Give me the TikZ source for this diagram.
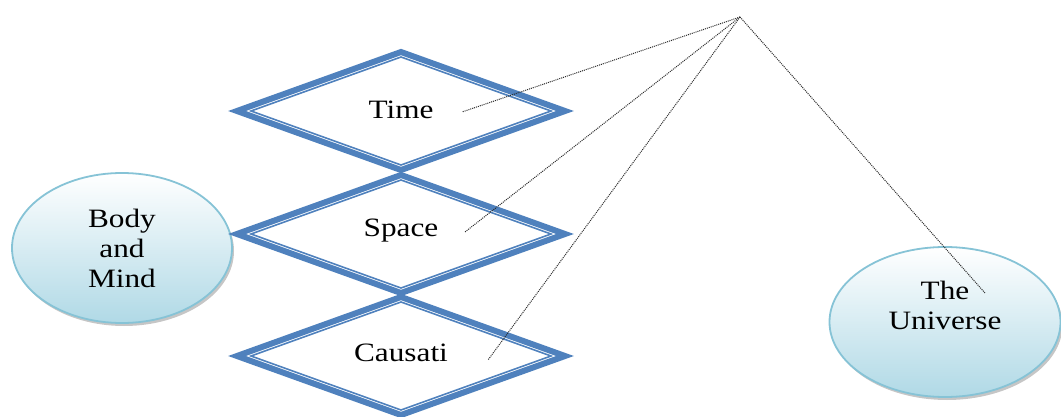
\documentclass[tikz,border=0pt]{standalone}
\usepackage{fontspec}
\setmainfont[FakeStretch=1.18]{Liberation Serif}
\usetikzlibrary{shapes.geometric,shadows}
\definecolor{dblue}{HTML}{4F81BD}
\definecolor{ebord}{HTML}{86C3D6}
\definecolor{ebot}{HTML}{B0D9E6}
\definecolor{dotc}{HTML}{2A2A2A}
\tikzset{
  dia/.style={diamond, draw=dblue, line width=6pt, inner sep=0pt, outer sep=0pt,
    minimum width=328pt, minimum height=118pt, fill=white,
    font=\fontsize{26.5pt}{30pt}\selectfont},
  innerdia/.style={draw=dblue, line width=1.6pt},
  oval/.style={ellipse, draw=ebord, line width=1.8pt, inner sep=0pt, outer sep=0pt,
    top color=white, bottom color=ebot, align=center,
    font=\fontsize{26.5pt}{30pt}\selectfont,
    drop shadow={opacity=0.45, shadow xshift=2pt, shadow yshift=-3pt}},
  dotline/.style={draw=dotc, line width=1pt, dash pattern=on 1pt off 1pt}
}
\begin{document}
\begin{tikzpicture}[x=1pt,y=-1pt]
\useasboundingbox (0,0) rectangle (1061,417);
% ellipses
\node[oval, minimum width=220pt, minimum height=150pt] (bm) at (122,248) {Body\\and\\Mind};
\node[oval, minimum width=231pt, minimum height=150pt] (uni) at (945,322) {The\\Universe\\[-6pt]\strut};
% diamonds
\node[dia] (time) at (401,111) {\raisebox{2pt}{Time}};
\draw[innerdia] ([xshift=14pt]time.west) -- ([yshift=-5pt]time.north) -- ([xshift=-14pt]time.east) -- ([yshift=5pt]time.south) -- cycle;
\node[dia, fill=none] (space) at (401,234) {};
\draw[innerdia] ([xshift=14pt]space.west) -- ([yshift=-5pt]space.north) -- ([xshift=-14pt]space.east) -- ([yshift=5pt]space.south) -- cycle;
\node[dia, fill=none] (caus) at (401,356) {};
\draw[innerdia] ([xshift=14pt]caus.west) -- ([yshift=-5pt]caus.north) -- ([xshift=-14pt]caus.east) -- ([yshift=5pt]caus.south) -- cycle;
\node[font=\fontsize{26.5pt}{30pt}\selectfont] (spacet) at ([yshift=3pt]space.center) {Space};
\node[font=\fontsize{26.5pt}{30pt}\selectfont] (caust) at ([yshift=3pt]caus.center) {Causati};
% dotted connectors
\coordinate (apex) at (740,17);
\coordinate (et) at (462,112);
\coordinate (es) at (465,232);
\coordinate (ec) at (488,360);
\coordinate (eu) at (985,293);
\draw[dotline] (apex) -- (et);
\draw[dotline] (apex) -- (es);
\draw[dotline] (apex) -- (ec);
\draw[dotline] (apex) -- (eu);
\end{tikzpicture}
\end{document}
